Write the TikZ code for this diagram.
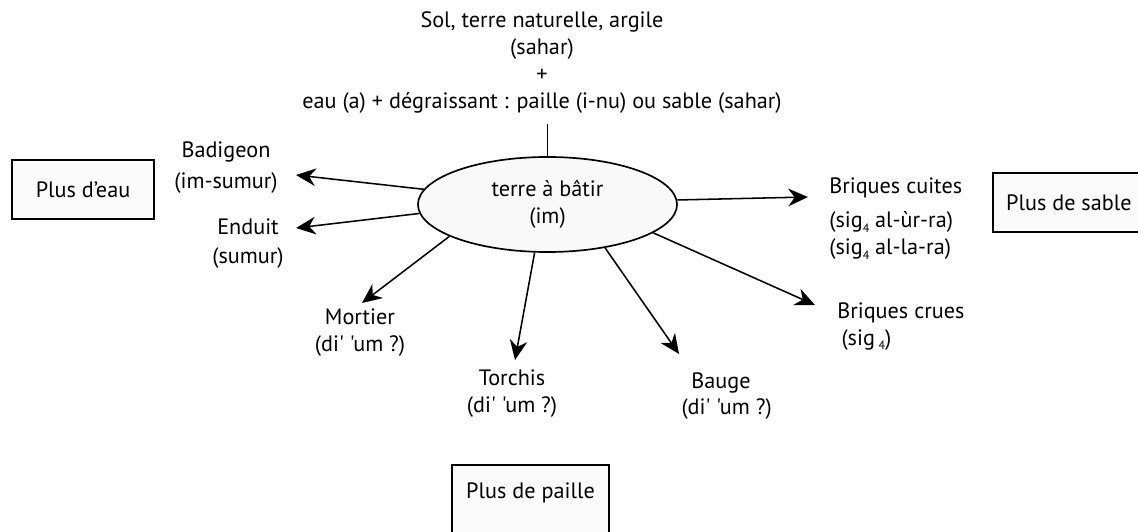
\documentclass[tikz,border=0pt]{standalone}
\usepackage{fontspec}
\setmainfont{PT Sans}[Ligatures=TeXOff]
\usetikzlibrary{shapes.geometric,arrows.meta,positioning}
\newcommand{\txt}{\fontsize{15.8}{19.2}\selectfont}
\newcommand{\ind}[1]{\raisebox{-3pt}{\fontsize{8.5}{8.5}\selectfont #1}}
\tikzset{
	terre/.style={ellipse,draw,line width=1.2pt,fill=gray!5,minimum width=6.475cm,minimum height=2.375cm,inner sep=0,align=center,font=\txt},
	mot/.style={align=center,inner sep=0,font=\txt},
	plus/.style={draw,line width=1.6pt,fill=gray!3,font=\txt},
	fleche/.style={-{Stealth[width=12.5pt,length=14pt,inset=4.5pt]},color=black,line width=1.1pt}
}

\begin{document}
\begin{tikzpicture}[x=0.025cm,y=-0.025cm]
		\useasboundingbox (0,0) rectangle (1138,532);
		%%%terre a batir
		\node[terre] (terre) at (547.5,204.5) {terre à bâtir\\(im)};
		\node[mot] (sol) at (542,63) {Sol, terre naturelle, argile\\(sahar)\\+\\eau (a) + dégraissant : paille (i-nu) ou sable (sahar)};
		\draw[line width=1.1pt] (terre.north) -- ++(0,-32);
		
		%%%produits
		\node[mot] (badigeon) at (226,167.5) {Badigeon\\[3pt](im-sumur)};
		\node[mot] (enduit) at (248,243.5) {Enduit\\[1pt](sumur)};
		\node[mot] (mortier) at (360,333) {Mortier\\(di' 'um ?)};
		\node[mot] (torchis) at (512,394) {Torchis\\(di' 'um ?)};
		\node[mot] (bauge) at (721,396) {Bauge\\[-1pt]\hspace*{8pt}(di' 'um ?)};
		\node[mot,align=left,anchor=west] (cuites) at (829,219) {Briques cuites\\[5pt](sig\ind{4} al-ùr-ra)\\(sig\ind{4} al-la-ra)};
		\node[mot,align=left,anchor=west] (crues) at (837,326.5) {Briques crues\\\hspace*{3pt}(sig\,\ind{4})};
		
		%%%fleches
		\coordinate (tbadigeon) at (296,175);
		\coordinate (tenduit) at (296,228);
		\coordinate (tmortier) at (362,303);
		\coordinate (ttorchis) at (515,360);
		\coordinate (tbauge) at (679,354);
		\coordinate (tcrues) at (815,305);
		\coordinate (tcuites) at (808,197);
		\draw[fleche] (terre.173.5) -- (tbadigeon);
		\draw[fleche] (terre.184.7) -- (tenduit);
		\draw[fleche] (terre.198) -- (tmortier);
		\draw[fleche] (terre.255.5) -- (ttorchis);
		\draw[fleche] (terre.323) -- (tbauge);
		\draw[fleche] (terre.345.5) -- (tcrues);
		\draw[fleche] (terre.2.9) -- (tcuites);
		
		%%%encadres
		\node[plus,minimum width=3.55cm,minimum height=1.475cm] (eau) at (83,189.5) {Plus d’eau};
		\node[plus,minimum height=1.475cm,inner xsep=0.325cm,anchor=west] (sable) at (992,202.5) {Plus de sable};
		\node[plus,minimum width=3.925cm,inner sep=0,text height=23.5pt,text depth=40pt,anchor=base] (paille) at (530.5,498) {Plus de paille};
	\end{tikzpicture}
\end{document}
